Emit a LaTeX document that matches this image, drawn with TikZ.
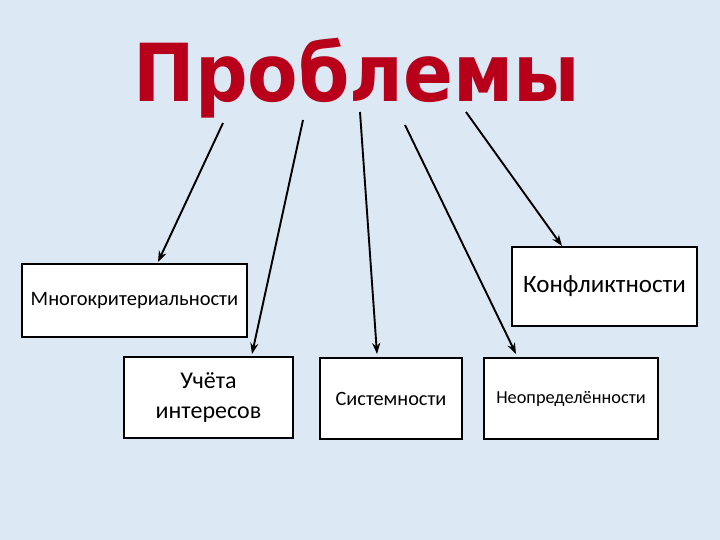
\documentclass[tikz,border=0pt]{standalone}
\usepackage{fontspec}
\setmainfont{Carlito}
\newfontfamily\titlefont{DejaVu Sans}
\usetikzlibrary{arrows.meta}
\definecolor{bg}{HTML}{DCE8F3}
\definecolor{tred}{HTML}{B8001A}
\begin{document}
\begin{tikzpicture}[x=1pt,y=-1pt,
  box/.style={draw=black,line width=1.8pt,fill=white,inner sep=0pt,align=center},
  arr/.style={-{Stealth[length=11pt,width=8pt]},line width=1.9pt}]
\fill[bg] (0,0) rectangle (720,540);
\useasboundingbox (0,0) rectangle (720,540);
\node (t) [font=\titlefont\bfseries\fontsize{80}{80}\selectfont,text=tred,xscale=0.92] at (357,78) {Проблемы};
\node (a) [box,minimum width=225pt,minimum height=73pt,font=\fontsize{20.5}{25}\selectfont] at (134.5,300.5) {Многокритериальности};
\node (b) [box,minimum width=185pt,minimum height=79pt,font=\fontsize{25}{30}\selectfont] at (604.5,286.5) {Конфликтности};
\node (c) [box,minimum width=169pt,minimum height=81pt,font=\fontsize{24}{30}\selectfont] at (208.5,397.5) {Учёта\\интересов};
\node (d) [box,minimum width=142pt,minimum height=81pt,font=\fontsize{20.3}{24}\selectfont] at (391,398.5) {Системности};
\node (e) [box,minimum width=174pt,minimum height=81pt,font=\fontsize{18.3}{22}\selectfont] at (571,398.5) {Неопределённости};
\coordinate (s1) at (223,123);
\coordinate (s2) at (303,120);
\coordinate (s3) at (360,112);
\coordinate (s4) at (405,125);
\coordinate (s5) at (466,112);
\draw[arr] (s1) -- (158,262);
\draw[arr] (s2) -- (252,354);
\draw[arr] (s3) -- (377,354);
\draw[arr] (s4) -- (516,354);
\draw[arr] (s5) -- (562,246);
\end{tikzpicture}
\end{document}
